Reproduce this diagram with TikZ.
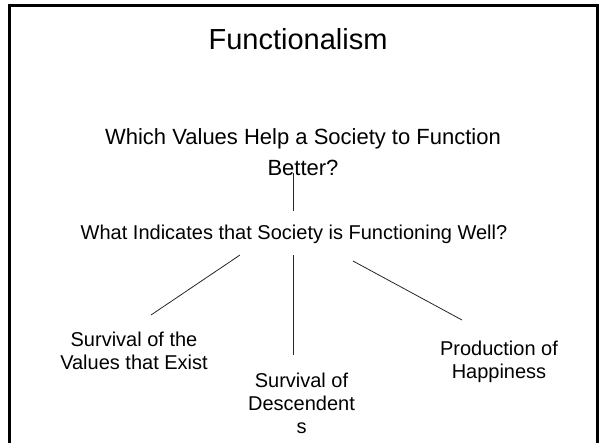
\documentclass[tikz,border=0pt]{standalone}
\usepackage{fontspec}
\setmainfont{Liberation Sans}
\begin{document}
\begin{tikzpicture}[x=1pt,y=-1pt,
  txt/.style={inner sep=0pt, anchor=base, align=center},
  big/.style={font=\fontsize{29}{34}\selectfont},
  mid/.style={font=\fontsize{22}{31}\selectfont},
  small/.style={font=\fontsize{20}{22.6}\selectfont},
  link/.style={line width=0.8pt, draw=black!85}]
\useasboundingbox (0,0) rectangle (605,442);
% slide frame
\draw[line width=3pt] (9.5,460) -- (9.5,5.5) -- (597.5,5.5) -- (597.5,460);
% texts (anchor base = baseline of the last line)
\node[txt,big]   (title) at (298,49)    {Functionalism};
\node[txt,mid]   (q1)    at (303,175)   {Which Values Help a Society to Function\\Better?};
\node[txt,small] (q2)    at (294,239)   {What Indicates that Society is Functioning Well?};
\node[txt,small] (a1)    at (134,369.5) {Survival of the\\Values that Exist};
\node[txt,small] (a2)    at (301.5,433) {Survival of\\Descendent\\s};
\node[txt,small] (a3)    at (499,378)   {Production of\\Happiness};
% connector end points
\coordinate (q1b) at (293,173);
\coordinate (q2t) at (293,211);
\coordinate (q2l) at (240,255);
\coordinate (a1t) at (151,315);
\coordinate (q2m) at (293.7,255);
\coordinate (a2t) at (293.7,355);
\coordinate (q2r) at (353,261);
\coordinate (a3t) at (462,320);
% connectors
\draw[link] (q1b) -- (q2t);
\draw[link] (q2l) -- (a1t);
\draw[link] (q2m) -- (a2t);
\draw[link] (q2r) -- (a3t);
\end{tikzpicture}
\end{document}
